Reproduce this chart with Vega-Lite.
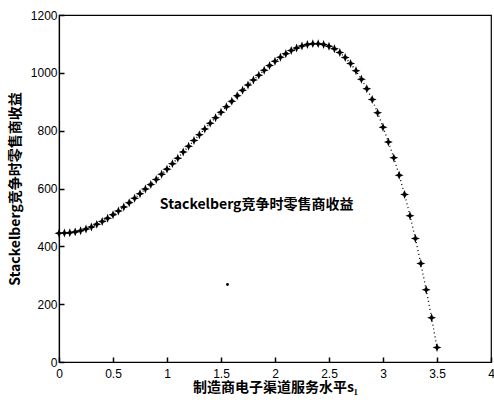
{
  "$schema": "https://vega.github.io/schema/vega-lite/v6.json",
  "width": 432,
  "height": 347,
  "autosize": {"type": "none"},
  "padding": {"left": 59, "top": 15, "right": 3, "bottom": 38},
  "background": "white",
  "config": {
    "view": {"stroke": "black", "strokeWidth": 1.2},
    "font": "Liberation Sans"
  },
  "datasets": {
    "curve": [
      {"s1": 0.00, "revenue": 445}, {"s1": 0.05, "revenue": 446}, {"s1": 0.10, "revenue": 447},
      {"s1": 0.15, "revenue": 450}, {"s1": 0.20, "revenue": 454}, {"s1": 0.25, "revenue": 460},
      {"s1": 0.30, "revenue": 467}, {"s1": 0.35, "revenue": 476}, {"s1": 0.40, "revenue": 486},
      {"s1": 0.45, "revenue": 497}, {"s1": 0.50, "revenue": 509}, {"s1": 0.55, "revenue": 522},
      {"s1": 0.60, "revenue": 536}, {"s1": 0.65, "revenue": 551}, {"s1": 0.70, "revenue": 566},
      {"s1": 0.75, "revenue": 582}, {"s1": 0.80, "revenue": 598}, {"s1": 0.85, "revenue": 614},
      {"s1": 0.90, "revenue": 631}, {"s1": 0.95, "revenue": 649}, {"s1": 1.00, "revenue": 667},
      {"s1": 1.05, "revenue": 686}, {"s1": 1.10, "revenue": 705}, {"s1": 1.15, "revenue": 726},
      {"s1": 1.20, "revenue": 746}, {"s1": 1.25, "revenue": 766}, {"s1": 1.30, "revenue": 786},
      {"s1": 1.35, "revenue": 806}, {"s1": 1.40, "revenue": 826}, {"s1": 1.45, "revenue": 845},
      {"s1": 1.50, "revenue": 864}, {"s1": 1.55, "revenue": 883}, {"s1": 1.60, "revenue": 902},
      {"s1": 1.65, "revenue": 921}, {"s1": 1.70, "revenue": 940}, {"s1": 1.75, "revenue": 958},
      {"s1": 1.80, "revenue": 975}, {"s1": 1.85, "revenue": 992}, {"s1": 1.90, "revenue": 1009},
      {"s1": 1.95, "revenue": 1025}, {"s1": 2.00, "revenue": 1040}, {"s1": 2.05, "revenue": 1054},
      {"s1": 2.10, "revenue": 1066}, {"s1": 2.15, "revenue": 1077}, {"s1": 2.20, "revenue": 1086},
      {"s1": 2.25, "revenue": 1093}, {"s1": 2.30, "revenue": 1098}, {"s1": 2.35, "revenue": 1101},
      {"s1": 2.40, "revenue": 1101}, {"s1": 2.45, "revenue": 1098}, {"s1": 2.50, "revenue": 1092},
      {"s1": 2.55, "revenue": 1083}, {"s1": 2.60, "revenue": 1070}, {"s1": 2.65, "revenue": 1053},
      {"s1": 2.70, "revenue": 1032}, {"s1": 2.75, "revenue": 1007}, {"s1": 2.80, "revenue": 978},
      {"s1": 2.85, "revenue": 945}, {"s1": 2.90, "revenue": 908}, {"s1": 2.95, "revenue": 862},
      {"s1": 3.00, "revenue": 812}, {"s1": 3.05, "revenue": 761}, {"s1": 3.10, "revenue": 706},
      {"s1": 3.15, "revenue": 646}, {"s1": 3.20, "revenue": 579}, {"s1": 3.25, "revenue": 506},
      {"s1": 3.30, "revenue": 427}, {"s1": 3.35, "revenue": 341}, {"s1": 3.40, "revenue": 250},
      {"s1": 3.45, "revenue": 153}, {"s1": 3.50, "revenue": 50}
    ],
    "note": [
      {"s1": 1.83, "revenue": 542, "label": "Stackelberg竞争时零售商收益"}
    ],
    "dot": [
      {"s1": 1.56, "revenue": 268}
    ]
  },
  "encoding": {
    "x": {
      "field": "s1", "type": "quantitative",
      "scale": {"domain": [0, 4], "nice": false, "zero": false},
      "axis": {
        "tickCount": 8, "format": "~g",
        "grid": false, "tickSize": -5, "tickColor": "black", "tickWidth": 1.5,
        "domainColor": "black", "domainWidth": 1.2,
        "labelColor": "black", "labelFontSize": 12, "labelPadding": 11,
        "labelFont": "Liberation Sans", "labelFlush": false, "labelOverlap": false,
        "title": "制造商电子渠道服务水平s₁",
        "titleFont": "Noto Sans CJK SC", "titleFontSize": 14, "titleFontWeight": "bold",
        "titleColor": "black", "titlePadding": 1
      }
    },
    "y": {
      "field": "revenue", "type": "quantitative",
      "scale": {"domain": [0, 1200], "nice": false},
      "axis": {
        "tickCount": 6, "format": "d",
        "grid": false, "tickSize": -5, "tickColor": "black", "tickWidth": 1.5,
        "domainColor": "black", "domainWidth": 1.2,
        "labelColor": "black", "labelFontSize": 12, "labelPadding": 7,
        "labelFont": "Liberation Sans", "labelFlush": false, "labelOverlap": false,
        "title": "Stackelberg竞争时零售商收益",
        "titleFont": "Noto Sans CJK SC", "titleFontSize": 14, "titleFontWeight": "bold",
        "titleColor": "black", "titlePadding": 8
      }
    }
  },
  "layer": [
    {
      "data": {"name": "curve"},
      "mark": {"type": "line", "color": "black", "strokeWidth": 1.3, "strokeDash": [1, 3]}
    },
    {
      "data": {"name": "curve"},
      "mark": {
        "type": "point", "filled": true, "color": "black", "opacity": 1,
        "shape": "M0,-1L0.28,-0.28L1,0L0.28,0.28L0,1L-0.28,0.28L-1,0L-0.28,-0.28Z",
        "size": 80
      }
    },
    {
      "data": {"name": "note"},
      "mark": {"type": "text", "font": "Noto Sans CJK SC", "fontSize": 14, "fontWeight": "bold", "color": "black", "align": "center", "baseline": "middle"},
      "encoding": {
        "text": {"field": "label"}
      }
    },
    {
      "data": {"name": "dot"},
      "mark": {"type": "point", "filled": true, "color": "black", "opacity": 1, "shape": "circle", "size": 8}
    }
  ]
}
